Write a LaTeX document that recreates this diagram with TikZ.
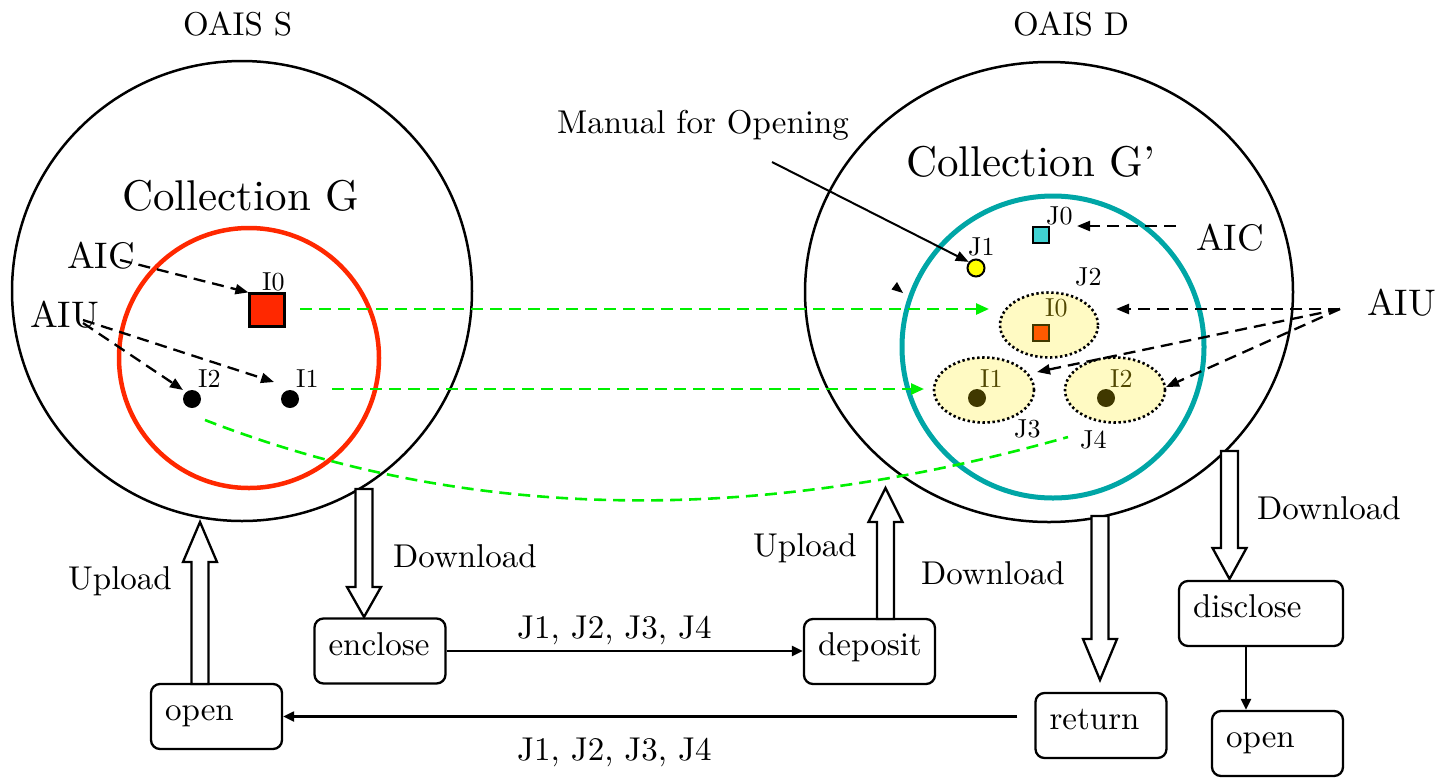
\documentclass[tikz,border=0pt]{standalone}
\usepackage{fontspec}
\setmainfont{lmroman10-regular}[Extension=.otf]
\usetikzlibrary{arrows.meta,shapes.geometric,calc}

\definecolor{redc}{RGB}{255,40,0}
\definecolor{tealc}{RGB}{0,166,166}
\definecolor{limec}{RGB}{0,240,0}
\definecolor{cyanc}{RGB}{64,210,210}
\definecolor{yelc}{RGB}{255,255,0}
\definecolor{paleyel}{RGB}{255,250,195}
\definecolor{orangec}{RGB}{255,90,0}
\definecolor{olivec}{RGB}{64,56,0}
\definecolor{olivetxt}{RGB}{80,70,0}

\tikzset{
  txt/.style={font=\fontsize{33}{36}\selectfont, inner sep=0pt},
  big/.style={font=\fontsize{43}{46}\selectfont, inner sep=0pt},
  aix/.style={font=\fontsize{37}{40}\selectfont, inner sep=0pt},
  tag/.style={font=\fontsize{26}{28}\selectfont, inner sep=0pt},
  stepbox/.style={draw, line width=2.3pt, rounded corners=9pt,
    minimum height=65pt, text width=#1, align=left,
    inner xsep=14pt, inner ysep=0pt, text height=23pt, text depth=15pt,
    font=\fontsize{33}{36}\selectfont},
  stepbox/.default=103pt,
  flow/.style={line width=2.2pt, -{Triangle[length=11pt,width=10pt]}},
  dasharrow/.style={line width=2.3pt, dash pattern=on 12pt off 7pt,
    -{Triangle[length=13pt,width=10pt]}},
  greenarrow/.style={draw=limec, line width=2.6pt, dash pattern=on 12pt off 7pt,
    -{Triangle[length=13pt,width=11pt,fill=limec]}},
  greenline/.style={draw=limec, line width=2.6pt, dash pattern=on 12pt off 7pt},
  blockarrow/.style={draw, fill=white, line width=2.3pt, line join=miter},
  dot/.style={circle, inner sep=0pt, minimum size=18pt},
  ring/.style={ellipse, draw, fill=paleyel, line width=2.6pt,
    dash pattern=on 2.4pt off 2.6pt, inner sep=0pt},
}

% hollow vertical arrow: tail coordinate, tip coordinate, signed head length
\newcommand{\hollowarrow}[3]{%
  \draw[blockarrow] let \p1=(#1), \p2=(#2) in
    (\x1-8.5pt,\y1) -- (\x1-8.5pt,\y2+#3) -- (\x1-17pt,\y2+#3) -- (\x2,\y2)
    -- (\x1+17pt,\y2+#3) -- (\x1+8.5pt,\y2+#3) -- (\x1+8.5pt,\y1) -- cycle;}

\begin{document}
\begin{tikzpicture}[x=1pt,y=-1pt]
\useasboundingbox (0,0) rectangle (1448,777);

% ---------- the two archives ----------
\node[txt, anchor=base west] (titleS) at (183,35) {OAIS S};
\node[txt, anchor=base west] (titleD) at (1013,35) {OAIS D};

\node[draw, circle, line width=2.5pt, minimum size=460pt, inner sep=0pt] (oaisS) at (242,291) {};
\node[draw, ellipse, line width=2.5pt, minimum width=488pt, minimum height=460pt, inner sep=0pt] (oaisD) at (1049,292) {};

\node[draw=redc, circle, line width=4.5pt, minimum size=260pt, inner sep=0pt] (collG) at (249,358) {};
\node[draw=tealc, circle, line width=5pt, minimum size=302pt, inner sep=0pt] (collGp) at (1053,347) {};

\node[big, anchor=base west] (nameG) at (122,210) {Collection G};
\node[big, anchor=base west] (nameGp) at (906,176) {Collection G\textquoteright};

% ---------- collection G ----------
\node[draw, fill=redc, line width=2.2pt, minimum width=35pt, minimum height=33pt, inner sep=0pt] (sI0) at (267,310) {};
\node[dot, fill=black] (sI1) at (290,399) {};
\node[dot, fill=black] (sI2) at (192,399) {};
\node[tag, anchor=base west] (lsI0) at (262,290) {I0};
\node[tag, anchor=base west] (lsI1) at (296,387) {I1};
\node[tag, anchor=base west] (lsI2) at (198,387) {I2};

\node[aix, anchor=base west] (aicS) at (67,268) {AIC};
\node[aix, anchor=base west] (aiuS) at (30,327) {AIU};
\coordinate (aicSo) at (120,260);
\coordinate (aiuSo) at (83,320);
\coordinate (aiuSo2) at (83,323);
\coordinate (toI1) at (274,382);
\coordinate (toI2) at (183,390);

\draw[dasharrow] (aicSo) -- (sI0.north west);
\draw[dasharrow] (aiuSo) -- (toI1);
\draw[dasharrow] (aiuSo2) -- (toI2);

% ---------- collection G' ----------
\node[ring, minimum width=98pt, minimum height=65pt] (J2) at (1049,325) {};
\node[ring, minimum width=100pt, minimum height=65pt] (J3) at (984,390) {};
\node[ring, minimum width=100pt, minimum height=65pt] (J4) at (1115,390) {};

\node[draw=olivec, fill=orangec, line width=2pt, minimum size=16pt, inner sep=0pt] (dI0) at (1041,333) {};
\node[dot, fill=olivec] (dI1) at (977,398) {};
\node[dot, fill=olivec] (dI2) at (1106,398) {};
\node[tag, text=olivetxt, anchor=base west] (ldI0) at (1045,316) {I0};
\node[tag, text=olivetxt, anchor=base west] (ldI1) at (980,387) {I1};
\node[tag, text=olivetxt, anchor=base west] (ldI2) at (1110,387) {I2};

\node[draw, fill=cyanc, line width=2pt, minimum size=16pt, inner sep=0pt] (J0) at (1041,235) {};
\node[draw, circle, fill=yelc, line width=2pt, minimum size=17pt, inner sep=0pt] (J1) at (976,268) {};

\node[tag, anchor=base west] (lJ0) at (1046,224) {J0};
\node[tag, anchor=base west] (lJ1) at (968,255) {J1};
\node[tag, anchor=base west] (lJ2) at (1075,285) {J2};
\node[tag, anchor=base west] (lJ3) at (1014,437) {J3};
\node[tag, anchor=base west] (lJ4) at (1080,448) {J4};

\node[aix, anchor=base west] (aicD) at (1196,250) {AIC};
\node[aix, anchor=base west] (aiuD) at (1367,315) {AIU};
\coordinate (aicDo) at (1176,226);
\coordinate (toJ0) at (1077,226);
\coordinate (aiuDo) at (1340,309);
\coordinate (toJ2) at (1116,309);
\coordinate (toJ3) at (1037,372);
\coordinate (toJ4) at (1166,387);

\draw[dasharrow] (aicDo) -- (toJ0);
\draw[dasharrow] (aiuDo) -- (toJ2);
\draw[dasharrow] (aiuDo) -- (toJ3);
\draw[dasharrow] (aiuDo) -- (toJ4);

\node[txt, anchor=base west] (manual) at (557,133) {Manual for Opening};
\coordinate (manualo) at (772,162);
\draw[line width=2pt, -{Triangle[length=13pt,width=10pt]}] (manualo) -- (J1.140);

% small stray arrow tip
\fill (897,282) -- (891.5,289.5) -- (903,293) -- cycle;

% ---------- transfers between the collections ----------
\coordinate (g1s) at (300,309);
\coordinate (g1e) at (989,309);
\coordinate (g2s) at (332,389);
\coordinate (g2e) at (924,389);
\coordinate (g3s) at (205,420);
\coordinate (g3e) at (1068,437);
\draw[greenarrow] (g1s) -- (g1e);
\draw[greenarrow] (g2s) -- (g2e);
\draw[greenline] (g3s) .. controls (465,521) and (750,527) .. (g3e);

% ---------- process steps ----------
\node[stepbox] (enclose) at (380,651) {enclose};
\node[stepbox] (deposit) at (869.5,651.5) {deposit};
\node[stepbox] (return) at (1101,725.5) {return};
\node[stepbox=136pt] (disclose) at (1261,613.5) {disclose};
\node[stepbox] (openD) at (1277.5,743.5) {open};
\node[stepbox] (openS) at (216.5,716.5) {open};

\draw[flow] (enclose.east) -- (enclose.east -| deposit.west);
\node[txt, anchor=base west] (jlist1) at (517,638) {J1, J2, J3, J4};
\draw[flow] ([xshift=-17pt]return.west |- openS.east) -- (openS.east);
\node[txt, anchor=base west] (jlist2) at (517,760) {J1, J2, J3, J4};
\draw[flow] ([xshift=-15pt]disclose.south) -- ([xshift=-15pt]disclose.south |- openD.north);

% ---------- uploads and downloads ----------
\coordinate (dlSa) at (364,489);
\coordinate (dlSb) at (364,617);
\coordinate (ulSa) at (200,684);
\coordinate (ulSb) at (200,522);
\coordinate (ulDa) at (885.5,619);
\coordinate (ulDb) at (885.5,488);
\coordinate (dlDa) at (1100,516);
\coordinate (dlDb) at (1100,680);
\coordinate (dlRa) at (1229.5,451);
\coordinate (dlRb) at (1229.5,579);

\hollowarrow{dlSa}{dlSb}{30pt}
\hollowarrow{ulSa}{ulSb}{-40pt}
\hollowarrow{ulDa}{ulDb}{-34pt}
\hollowarrow{dlDa}{dlDb}{41pt}
\hollowarrow{dlRa}{dlRb}{31pt}

\node[txt, anchor=base west] (dlStxt) at (393,567) {Download};
\node[txt, anchor=base west] (ulStxt) at (68,589) {Upload};
\node[txt, anchor=base west] (ulDtxt) at (753,556) {Upload};
\node[txt, anchor=base west] (dlDtxt) at (921,584) {Download};
\node[txt, anchor=base west] (dlRtxt) at (1257,519) {Download};

\end{tikzpicture}
\end{document}
